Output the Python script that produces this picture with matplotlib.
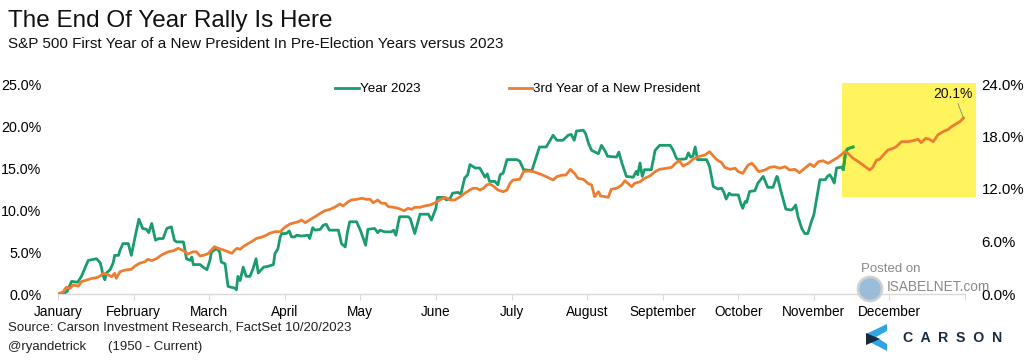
import matplotlib
matplotlib.use('agg')
import matplotlib.pyplot as plt
from matplotlib.lines import Line2D
from matplotlib.patches import Rectangle, Polygon, Ellipse

# 2023 YTD return (%), x = month position (0 = start of January)
green_pos = [0.00, 0.07, 0.12, 0.18, 0.26, 0.31, 0.40, 0.51, 0.56, 0.60, 0.62, 0.64, 0.69, 0.73, 0.75,
             0.80, 0.82, 0.86, 0.93, 0.97, 1.02, 1.07, 1.12, 1.17, 1.20, 1.24, 1.29, 1.33, 1.39, 1.44,
             1.50, 1.54, 1.57, 1.66, 1.70, 1.75, 1.77, 1.79, 1.88, 1.92, 1.97, 2.01, 2.03, 2.10, 2.14,
             2.16, 2.21, 2.25, 2.34, 2.36, 2.38, 2.41, 2.45, 2.49, 2.54, 2.58, 2.62, 2.65, 2.72, 2.78,
             2.85, 2.87, 2.91, 2.94, 2.96, 3.02, 3.06, 3.09, 3.13, 3.16, 3.22, 3.31, 3.33, 3.37, 3.40,
             3.47, 3.51, 3.55, 3.59, 3.71, 3.75, 3.80, 3.83, 3.86, 3.95, 4.00, 4.04, 4.07, 4.10, 4.19,
             4.23, 4.26, 4.32, 4.41, 4.44, 4.47, 4.50, 4.52, 4.63, 4.66, 4.72, 4.79, 4.90, 4.94, 5.00,
             5.02, 5.10, 5.14, 5.19, 5.22, 5.29, 5.33, 5.38, 5.42, 5.45, 5.52, 5.58, 5.63, 5.65, 5.68,
             5.71, 5.78, 5.82, 5.85, 5.89, 5.94, 6.02, 6.07, 6.11, 6.16, 6.27, 6.37, 6.46, 6.55, 6.60,
             6.68, 6.75, 6.79, 6.83, 6.86, 6.95, 6.98, 7.02, 7.06, 7.15, 7.19, 7.24, 7.27, 7.39, 7.42,
             7.46, 7.52, 7.61, 7.65, 7.67, 7.70, 7.73, 7.76, 7.85, 7.90, 7.96, 8.10, 8.14, 8.18, 8.20,
             8.31, 8.34, 8.37, 8.40, 8.43, 8.46, 8.58, 8.62, 8.67, 8.73, 8.78, 8.81, 8.84, 8.88, 8.91,
             9.00, 9.04, 9.06, 9.09, 9.11, 9.15, 9.22, 9.26, 9.33, 9.39, 9.46, 9.51, 9.52, 9.56, 9.63,
             9.70, 9.72, 9.76, 9.79, 9.84, 9.88, 9.92, 9.97, 10.00, 10.05, 10.08, 10.15, 10.18, 10.21,
             10.24, 10.27, 10.30, 10.37, 10.39, 10.42, 10.45, 10.52]
green_val = [0.0, 0.0, 0.3, 1.5, 1.4, 2.1, 4.0, 4.2, 3.7, 2.1, 1.7, 2.5, 2.9, 3.7, 4.6,
             4.6, 5.2, 6.0, 6.0, 4.6, 6.8, 8.9, 7.8, 7.7, 7.3, 8.4, 6.4, 6.6, 6.6, 7.8,
             8.0, 6.4, 6.2, 6.2, 4.2, 4.0, 4.4, 3.5, 3.5, 3.2, 2.9, 4.0, 5.0, 5.4, 5.0,
             3.8, 3.6, 0.9, 0.7, 0.5, 2.1, 1.6, 3.2, 2.1, 2.1, 3.0, 4.2, 2.5, 3.2, 3.3,
             3.5, 4.8, 5.4, 6.8, 7.2, 7.2, 7.5, 6.8, 6.8, 7.0, 6.9, 7.0, 6.6, 7.9, 7.6,
             7.7, 8.2, 8.3, 7.6, 7.6, 6.0, 5.6, 7.4, 8.6, 8.6, 7.6, 6.6, 5.8, 7.7, 7.8,
             7.3, 7.6, 7.4, 7.4, 7.6, 7.0, 8.4, 9.2, 9.2, 9.0, 7.2, 9.5, 9.5, 8.8, 10.2,
             11.5, 11.5, 11.2, 11.4, 12.0, 12.1, 11.9, 13.8, 14.2, 15.4, 15.0, 15.0, 14.2, 13.9, 14.3,
             13.4, 13.4, 13.0, 14.2, 14.4, 16.0, 16.0, 16.0, 15.8, 14.8, 14.7, 17.5, 17.5, 18.9, 18.3,
             18.3, 18.9, 19.0, 18.3, 19.4, 19.5, 19.1, 17.9, 17.1, 16.7, 17.7, 17.0, 16.4, 16.3, 16.9,
             15.6, 14.0, 13.9, 14.6, 14.2, 15.6, 14.0, 14.8, 14.8, 17.1, 17.7, 17.7, 17.1, 16.2, 16.0,
             16.1, 16.8, 16.3, 16.4, 17.5, 16.0, 16.0, 15.2, 12.8, 12.5, 12.6, 12.1, 11.3, 12.0, 11.8,
             11.8, 10.6, 10.2, 11.0, 10.9, 12.2, 12.3, 13.2, 14.0, 12.7, 12.7, 14.0, 13.9, 12.4, 10.1,
             10.0, 10.1, 10.6, 9.2, 7.8, 7.2, 7.2, 8.7, 9.4, 12.0, 13.6, 13.6, 14.0, 14.2,
             13.8, 13.2, 15.0, 15.1, 14.8, 16.9, 17.3, 17.5]

# average 3rd year of a new president (%), right axis
orange_pos = [0.00, 0.07, 0.11, 0.16, 0.20, 0.27, 0.31, 0.38, 0.45, 0.51, 0.56, 0.60, 0.67, 0.71, 0.75,
              0.77, 0.82, 0.89, 0.97, 1.02, 1.08, 1.15, 1.19, 1.24, 1.31, 1.37, 1.46, 1.53, 1.59, 1.66,
              1.72, 1.79, 1.83, 1.88, 1.94, 1.99, 2.03, 2.07, 2.12, 2.19, 2.25, 2.30, 2.34, 2.37, 2.41,
              2.45, 2.50, 2.56, 2.63, 2.69, 2.76, 2.80, 2.87, 2.94, 3.00, 3.07, 3.13, 3.18, 3.22, 3.27,
              3.33, 3.40, 3.47, 3.53, 3.60, 3.66, 3.73, 3.77, 3.84, 3.88, 3.95, 4.02, 4.08, 4.13, 4.17,
              4.23, 4.28, 4.33, 4.37, 4.44, 4.50, 4.58, 4.63, 4.68, 4.72, 4.79, 4.85, 4.92, 4.99, 5.05,
              5.12, 5.19, 5.25, 5.32, 5.38, 5.45, 5.49, 5.54, 5.58, 5.63, 5.67, 5.71, 5.76, 5.82, 5.89,
              5.94, 5.98, 6.02, 6.11, 6.16, 6.22, 6.29, 6.38, 6.46, 6.55, 6.60, 6.66, 6.72, 6.78, 6.84,
              6.88, 6.95, 7.01, 7.06, 7.10, 7.15, 7.18, 7.24, 7.28, 7.32, 7.39, 7.46, 7.50, 7.54, 7.59,
              7.63, 7.70, 7.76, 7.83, 7.90, 7.96, 8.05, 8.12, 8.16, 8.22, 8.27, 8.34, 8.40, 8.47, 8.56,
              8.62, 8.67, 8.71, 8.78, 8.82, 8.89, 8.96, 9.00, 9.06, 9.13, 9.18, 9.22, 9.27, 9.35, 9.42,
              9.48, 9.55, 9.62, 9.68, 9.75, 9.81, 9.88, 9.95, 10.00, 10.06, 10.12, 10.19, 10.26, 10.32,
              10.41, 10.45, 10.52, 10.59, 10.65, 10.71, 10.74, 10.78, 10.83, 10.87, 10.92, 10.98, 11.05,
              11.09, 11.16, 11.25, 11.31, 11.38, 11.42, 11.48, 11.53, 11.58, 11.64, 11.71, 11.78, 11.82,
              11.88, 11.93, 11.98]
orange_val = [0.0, 0.26, 0.77, 0.65, 1.03, 0.91, 1.41, 1.60, 1.79, 1.86, 2.06, 2.37, 2.17, 1.98, 2.37,
              1.79, 2.55, 2.74, 2.82, 3.20, 3.51, 3.69, 3.97, 3.81, 4.08, 4.46, 4.83, 4.95, 5.22, 4.95,
              4.57, 4.83, 4.83, 4.34, 4.46, 4.65, 5.03, 5.41, 5.22, 5.03, 4.83, 4.65, 5.03, 5.22, 5.11,
              5.41, 5.68, 5.98, 6.37, 6.48, 6.74, 6.94, 7.12, 7.12, 7.62, 8.00, 8.15, 8.26, 8.46, 8.15,
              8.46, 8.83, 9.22, 9.52, 9.68, 9.91, 10.29, 10.06, 10.55, 10.74, 10.82, 10.94, 10.82, 10.82, 10.43,
              10.74, 10.37, 10.37, 9.98, 9.91, 9.79, 9.52, 9.79, 9.68, 9.91, 9.91, 10.06, 10.17, 10.43, 10.74,
              11.05, 10.74, 10.74, 11.12, 11.51, 11.89, 12.08, 12.08, 11.89, 12.08, 12.46, 12.57, 12.34, 11.89, 11.69,
              11.89, 12.65, 13.03, 13.11, 13.98, 14.06, 13.98, 13.71, 13.41, 13.03, 13.41, 13.57, 13.60, 14.25, 13.71,
              13.22, 13.11, 12.65, 12.46, 11.12, 11.69, 11.20, 11.12, 11.05, 11.97, 12.08, 12.46, 12.95, 12.65, 12.26,
              12.65, 12.83, 13.22, 13.49, 13.98, 14.25, 14.37, 14.48, 14.86, 15.23, 14.63, 14.94, 15.39, 15.69, 15.89,
              16.26, 15.77, 15.39, 15.01, 14.48, 14.25, 14.37, 13.98, 13.79, 14.74, 14.94, 14.55, 13.98, 14.17, 14.48,
              14.55, 14.37, 14.55, 14.17, 14.25, 13.86, 14.37, 14.86, 14.55, 15.12, 15.23, 14.94, 15.31, 15.62,
              16.26, 16.08, 15.51, 15.12, 14.74, 14.37, 14.17, 14.48, 15.31, 15.39, 15.89, 16.46, 16.65,
              16.83, 17.41, 17.41, 17.52, 17.68, 17.29, 17.79, 17.68, 17.41, 18.17, 18.55, 18.82, 19.12,
              19.43, 19.69, 20.1]

months = ['January', 'February', 'March', 'April', 'May', 'June', 'July', 'August',
          'September', 'October', 'November', 'December']
left_ticks = [0, 5, 10, 15, 20, 25]
right_ticks = [0, 6, 12, 18, 24]
end_label = '20.1%'

GREEN = '#1b9c6c'
GREEN_HI = '#2fa53c'
ORANGE = '#ed7d31'
YELLOW = '#fff35e'
W, H = 1024, 360


def fx(x):
    return x / W


def fy(y):
    return 1 - y / H


fig = plt.figure(figsize=(W / 100, H / 100), dpi=100)
ax = fig.add_axes([fx(58), fy(294), fx(907), 210 / H])
ax2 = ax.twinx()

ax.set_xlim(0, 12)
ax.set_ylim(0, 25)
ax2.set_ylim(0, 24)

# highlighted year-end window
ax.add_patch(Rectangle((10.37, 11.55), 1.77, 13.55, facecolor=YELLOW, edgecolor='none',
                       zorder=0, clip_on=False))

ax.plot(green_pos, green_val, color=GREEN, lw=2.0, solid_joinstyle='round', zorder=2)
hi = [i for i, p in enumerate(green_pos) if p >= 10.37]
ax.plot([green_pos[i] for i in hi], [green_val[i] for i in hi], color=GREEN_HI, lw=2.0, zorder=3)
ax2.plot(orange_pos, orange_val, color=ORANGE, lw=2.0, solid_joinstyle='round', zorder=2)

ax2.annotate(end_label, xy=(orange_pos[-1], orange_val[-1]), xytext=(11.84, 22.9),
             ha='center', va='center', fontsize=10, family='Liberation Sans', color='#111111',
             arrowprops=dict(arrowstyle='-', color='#808080', lw=0.6, shrinkA=0, shrinkB=0,
                             relpos=(0.6, 0.0)))

# axes styling
for a in (ax, ax2):
    for s in ('top', 'left', 'right', 'bottom'):
        a.spines[s].set_visible(False)
ax.spines['bottom'].set_visible(True)
ax.spines['bottom'].set_color('#d9d9d9')
ax.spines['bottom'].set_linewidth(1.0)

ax.set_xticks(range(13))
ax.set_xticklabels(months + [''])
ax.tick_params(axis='x', length=4, width=0.8, color='#d9d9d9', pad=4, labelsize=9.8)
for lab in ax.get_xticklabels():
    lab.set_family(['Liberation Sans Narrow', 'Liberation Sans'])

ax.set_yticks(left_ticks)
ax.set_yticklabels(['%.1f%%' % v for v in left_ticks])
ax.tick_params(axis='y', length=0, pad=12, labelsize=10.3)
ax2.set_yticks(right_ticks)
ax2.set_yticklabels(['%.1f%%' % v for v in right_ticks])
ax2.tick_params(axis='y', length=0, pad=12, labelsize=10.8)
for lab in ax.get_yticklabels() + ax2.get_yticklabels():
    lab.set_family('Liberation Sans')

handles = [Line2D([], [], color=GREEN, lw=2.0), Line2D([], [], color=ORANGE, lw=2.0)]
fig.legend(handles, ['Year 2023', '3rd Year of a New President'], loc='center',
           bbox_to_anchor=(fx(518), fy(89)), ncol=2, frameon=False, handlelength=1.75,
           handletextpad=0.1, columnspacing=6.6, prop={'family': 'Liberation Sans', 'size': 9.6})

# titles and notes
fig.text(fx(8), fy(27), 'The End Of Year Rally Is Here', fontsize=17.5,
         family='Liberation Sans', va='baseline', color='#111111')
fig.text(fx(8), fy(48), 'S&P 500 First Year of a New President In Pre-Election Years versus 2023',
         fontsize=11, family='Liberation Sans', va='baseline', color='#111111')
fig.text(fx(8), fy(328), 'Source: Carson Investment Research, FactSet 10/20/2023', fontsize=9.5,
         family=['Liberation Sans Narrow', 'Liberation Sans'], va='center', color='#222222')
fig.text(fx(8), fy(347), '@ryandetrick      (1950 - Current)', fontsize=9.5,
         family=['Liberation Sans Narrow', 'Liberation Sans'], va='center', color='#222222')

# watermark
fig.text(fx(891), fy(269), 'Posted on', fontsize=9.5, family='Liberation Sans', ha='center',
         va='center', color='#8a8a8a')
fig.text(fx(887), fy(287), 'ISABELNET.com', fontsize=9.8, family='Liberation Sans', ha='left',
         va='center', color='#8a8a8a')
fig.patches.append(Ellipse((fx(870), fy(289)), 24 / W, 24 / H, transform=fig.transFigure,
                           facecolor='#8fb6d6', edgecolor='#cfcfcf', lw=2.0, alpha=0.9))

# Carson logo
fig.patches.append(Polygon([(fx(887), fy(324)), (fx(887), fy(331)), (fx(876), fy(337)),
                            (fx(887), fy(344)), (fx(887), fy(351)), (fx(866), fy(340)),
                            (fx(866), fy(334))], closed=True, transform=fig.transFigure,
                           facecolor='#2fa5e3', edgecolor='none'))
fig.patches.append(Polygon([(fx(866), fy(333)), (fx(880), fy(339)), (fx(866), fy(345))],
                           closed=True, transform=fig.transFigure,
                           facecolor='#172a3f', edgecolor='none'))
fig.text(fx(903), fy(338), 'C  A  R  S  O  N', fontsize=10.2, family='Liberation Sans',
         fontweight='semibold', va='center', color='#1c2b3c')

fig.savefig('out.png', dpi=100)
